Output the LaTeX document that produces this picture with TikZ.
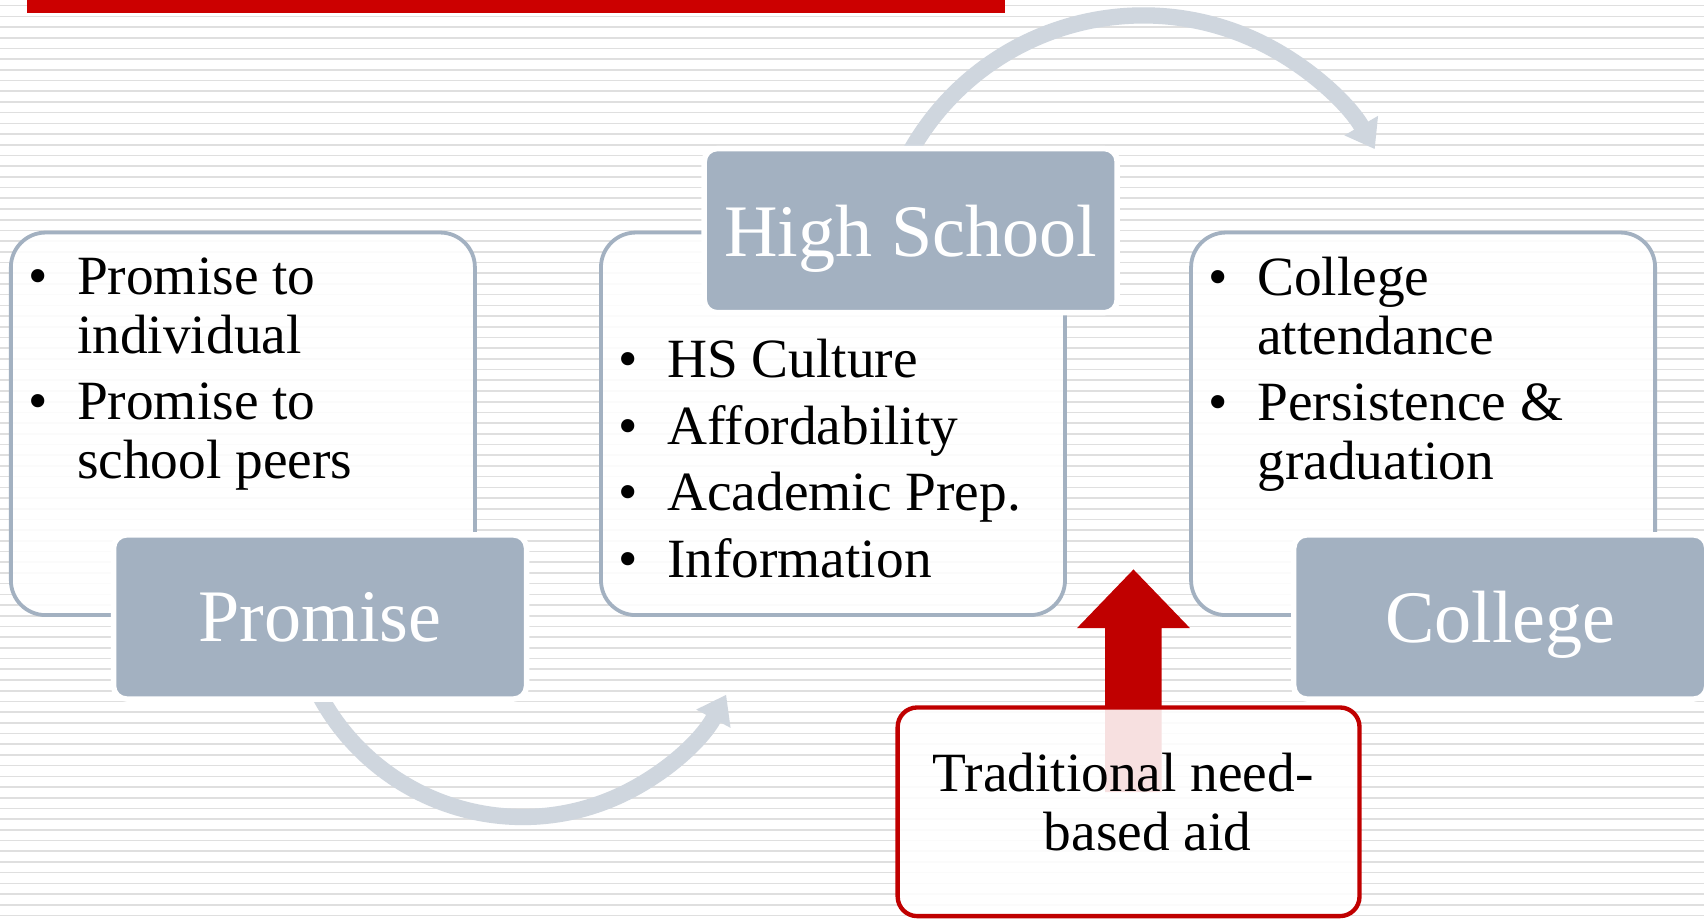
\documentclass[tikz,border=0pt]{standalone}
\usepackage{fontspec}
\setmainfont{Liberation Serif}
\usepackage{tikz}
\usetikzlibrary{arrows.meta, positioning, backgrounds, calc}
\definecolor{stageblue}{HTML}{A3B1C1}
\definecolor{arcgray}{HTML}{CFD6DE}
\definecolor{aidred}{HTML}{C00000}
\definecolor{barred}{HTML}{CC0000}
\definecolor{stripegray}{HTML}{DFDFDF}

\begin{document}
\begin{tikzpicture}[
        node distance=1.125cm,
        listbox/.style={draw=stageblue, line width=0.35mm, rounded corners=0.32cm, fill=white, fill opacity=0.88, minimum width=4.27cm, minimum height=3.52cm},
        listtext/.style={inner sep=0pt, font=\fontsize{14.5}{15.4}\selectfont},
        stage/.style={rounded corners=0.12cm, fill=stageblue, draw=white, line width=0.5mm, minimum width=3.80cm, minimum height=1.51cm, inner sep=0pt, text depth=0pt, text=white, font=\fontsize{19.4}{23}\selectfont},
        aidbox/.style={draw=aidred, line width=0.4mm, rounded corners=0.18cm, fill=white, fill opacity=0.88, minimum width=4.25cm, minimum height=1.92cm},
        aidtext/.style={inner sep=0pt, align=center, font=\fontsize{14.5}{15.4}\selectfont},
        cyclearrow/.style={draw=arcgray, line width=1.5mm, -{Triangle[length=2.5mm, width=3.4mm]}},
        stripe/.style={draw=stripegray, line width=0.15mm}
    ]
        \useasboundingbox (0,0) rectangle (15.68,-8.47);
        \fill[barred] (0.25,0) rectangle (9.25,-0.12);

        \node[listbox] (promiseBox) at (2.235,-3.90) {};
        \node[listbox, right=of promiseBox] (schoolBox) {};
        \node[listbox, right=of schoolBox] (collegeBox) {};

        \node[listtext, below right=0.20cm and 0.17cm of promiseBox.north west] (promiseList) {%
            \begin{tabular}{@{}p{0.45cm}@{}l@{}}
                \textbullet & Promise to\\ & individual\\[2pt]
                \textbullet & Promise to\\ & school peers
            \end{tabular}};
        \node[listtext, below right=0.97cm and 0.17cm of schoolBox.north west] (schoolList) {%
            \begin{tabular}{@{}p{0.45cm}@{}l@{}}
                \textbullet & HS Culture\\[2pt]
                \textbullet & Affordability\\[2pt]
                \textbullet & Academic Prep.\\[2pt]
                \textbullet & Information
            \end{tabular}};
        \node[listtext, below right=0.21cm and 0.17cm of collegeBox.north west] (collegeList) {%
            \begin{tabular}{@{}p{0.45cm}@{}l@{}}
                \textbullet & College\\ & attendance\\[2pt]
                \textbullet & Persistence \&\\ & graduation
            \end{tabular}};

        \node[stage, xshift=0.71cm] (promise) at (promiseBox.south) {Promise};
        \node[stage, xshift=0.715cm] (highSchool) at (schoolBox.north) {High School};
        \node[stage, xshift=0.71cm] (college) at (collegeBox.south) {College};

        % block arrow runs under the aid box
        \fill[aidred] (10.43,-5.24) -- (10.95,-5.78) -- (10.69,-5.78) -- (10.69,-7.29)
            -- (10.17,-7.29) -- (10.17,-5.78) -- (9.91,-5.78) -- cycle;
        \node[aidbox] (aid) at (10.385,-7.47) {};
        \node[aidtext, xshift=-0.05cm, yshift=0.09cm] (aidText) at (aid.center) {Traditional need-\\\hspace*{0.45cm}based aid};

        \begin{scope}[on background layer]
            \fill[white] (0,0) rectangle (15.68,-8.47);
            \foreach \i in {0,...,85}
                \draw[stripe] (0,-0.052-0.0985*\i) -- (15.68,-0.052-0.0985*\i);
            \draw[cyclearrow] ($(promise.center)+(1.865,0.28)+(203:2.12)$) arc[start angle=203, end angle=332, radius=2.12];
            \draw[cyclearrow] ($(highSchool.center)+(2.14,-0.48)+(153:2.46)$) arc[start angle=153, end angle=30, radius=2.46];
        \end{scope}
    \end{tikzpicture}
\end{document}
